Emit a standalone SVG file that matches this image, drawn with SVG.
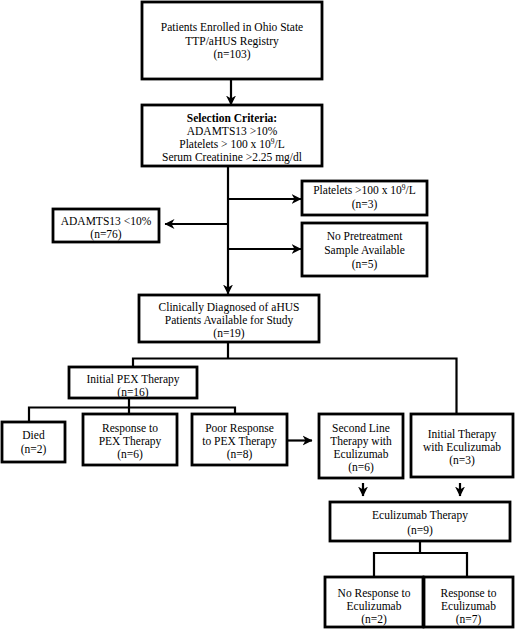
<svg xmlns="http://www.w3.org/2000/svg" width="520" height="633" viewBox="0 0 520 633">
<defs>
<marker id="ah" markerUnits="userSpaceOnUse" markerWidth="11" markerHeight="11" refX="9.5" refY="5.5" orient="auto">
<path d="M0,0.5 L10,5.5 L0,10.5 L3,5.5 z" fill="#000"/>
</marker>
<style>
.box{fill:#fff;stroke:#000;stroke-width:2.8}
.ln{fill:none;stroke:#000;stroke-width:2.2}
.ar{fill:none;stroke:#000;stroke-width:2.2;marker-end:url(#ah)}
text{font-family:"Liberation Serif","Times New Roman",serif;font-size:11.5px;fill:#000;text-anchor:middle}
.b{font-weight:bold}
.sup{font-size:7.5px}
</style>
</defs>
<rect width="520" height="633" fill="#fff"/>
<g id="connectors">
<path class="ar" d="M231,79 V105"/>
<path class="ar" d="M228,166 V294"/>
<path class="ar" d="M228,199 H301"/>
<path class="ar" d="M228,224 H165"/>
<path class="ar" d="M228,249 H301"/>
<path class="ln" d="M228,342 V358.5 M132,358.5 H457.5 M133,357.5 V367 M456.5,357.5 V414"/>
<path class="ln" d="M129,398 V407.5 M28,407.5 H236 M29,406.5 V422 M129,407.5 V414 M235,406.5 V414"/>
<path class="ar" d="M287,440.5 H312"/>
<path class="ar" d="M363,483 V496"/>
<path class="ar" d="M460,483 V496"/>
<path class="ln" d="M420,541 V553 M373,553 H468 M374,552 V577 M467,552 V577"/>
</g>
<g id="n1">
<rect class="box" x="142" y="2" width="180" height="77"/>
<text x="232" y="31">Patients Enrolled in Ohio State</text>
<text x="232" y="44.5">TTP/aHUS Registry</text>
<text x="232" y="58">(n=103)</text>
</g>
<g id="n2">
<rect class="box" x="142" y="105" width="180" height="61"/>
<text class="b" x="232" y="122">Selection Criteria:</text>
<text x="232" y="135">ADAMTS13 &gt;10%</text>
<text x="232" y="148">Platelets &gt; 100 x 10<tspan class="sup" dy="-4">9</tspan><tspan dy="4">/L</tspan></text>
<text x="232" y="161">Serum Creatinine &gt;2.25 mg/dl</text>
</g>
<g id="n3">
<rect class="box" x="302" y="181" width="125" height="34"/>
<text x="364.5" y="193.5">Platelets &gt;100 x 10<tspan class="sup" dy="-4">9</tspan><tspan dy="4">/L</tspan></text>
<text x="364.5" y="208">(n=3)</text>
</g>
<g id="n4">
<rect class="box" x="53" y="209" width="106" height="33"/>
<text x="106" y="225">ADAMTS13 &lt;10%</text>
<text x="106" y="237.5">(n=76)</text>
</g>
<g id="n5">
<rect class="box" x="302" y="223" width="125" height="53"/>
<text x="364.5" y="240">No Pretreatment</text>
<text x="364.5" y="254">Sample Available</text>
<text x="364.5" y="267.5">(n=5)</text>
</g>
<g id="n6">
<rect class="box" x="139" y="295" width="180" height="47"/>
<text x="229" y="311">Clinically Diagnosed of aHUS</text>
<text x="229" y="324">Patients Available for Study</text>
<text x="229" y="337">(n=19)</text>
</g>
<g id="n7">
<rect class="box" x="69" y="367" width="128" height="31"/>
<text x="133" y="383">Initial PEX Therapy</text>
<text x="133" y="396">(n=16)</text>
</g>
<g id="n8">
<rect class="box" x="2" y="422" width="63" height="40"/>
<text x="33.5" y="439">Died</text>
<text x="33.5" y="453">(n=2)</text>
</g>
<g id="n9">
<rect class="box" x="83" y="414" width="94" height="51"/>
<text x="130" y="432">Response to</text>
<text x="130" y="444.5">PEX Therapy</text>
<text x="130" y="457.5">(n=6)</text>
</g>
<g id="n10">
<rect class="box" x="192" y="414" width="95" height="51"/>
<text x="239.5" y="432">Poor Response</text>
<text x="239.5" y="444.5">to PEX Therapy</text>
<text x="239.5" y="457.5">(n=8)</text>
</g>
<g id="n11">
<rect class="box" x="319" y="414" width="84" height="64"/>
<text x="361" y="432">Second Line</text>
<text x="361" y="444.5">Therapy with</text>
<text x="361" y="457.5">Eculizumab</text>
<text x="361" y="471">(n=6)</text>
</g>
<g id="n12">
<rect class="box" x="411" y="414" width="102" height="63"/>
<text x="462" y="437.5">Initial Therapy</text>
<text x="462" y="451">with Eculizumab</text>
<text x="462" y="464">(n=3)</text>
</g>
<g id="n13">
<rect class="box" x="330" y="502" width="180" height="39"/>
<text x="420" y="519">Eculizumab Therapy</text>
<text x="420" y="533.5">(n=9)</text>
</g>
<g id="n14">
<rect class="box" x="325" y="577" width="98" height="50"/>
<text x="374" y="597">No Response to</text>
<text x="374" y="610">Eculizumab</text>
<text x="374" y="623">(n=2)</text>
</g>
<g id="n15">
<rect class="box" x="424" y="577" width="89" height="50"/>
<text x="468.5" y="597">Response to</text>
<text x="468.5" y="610">Eculizumab</text>
<text x="468.5" y="623">(n=7)</text>
</g>
</svg>
